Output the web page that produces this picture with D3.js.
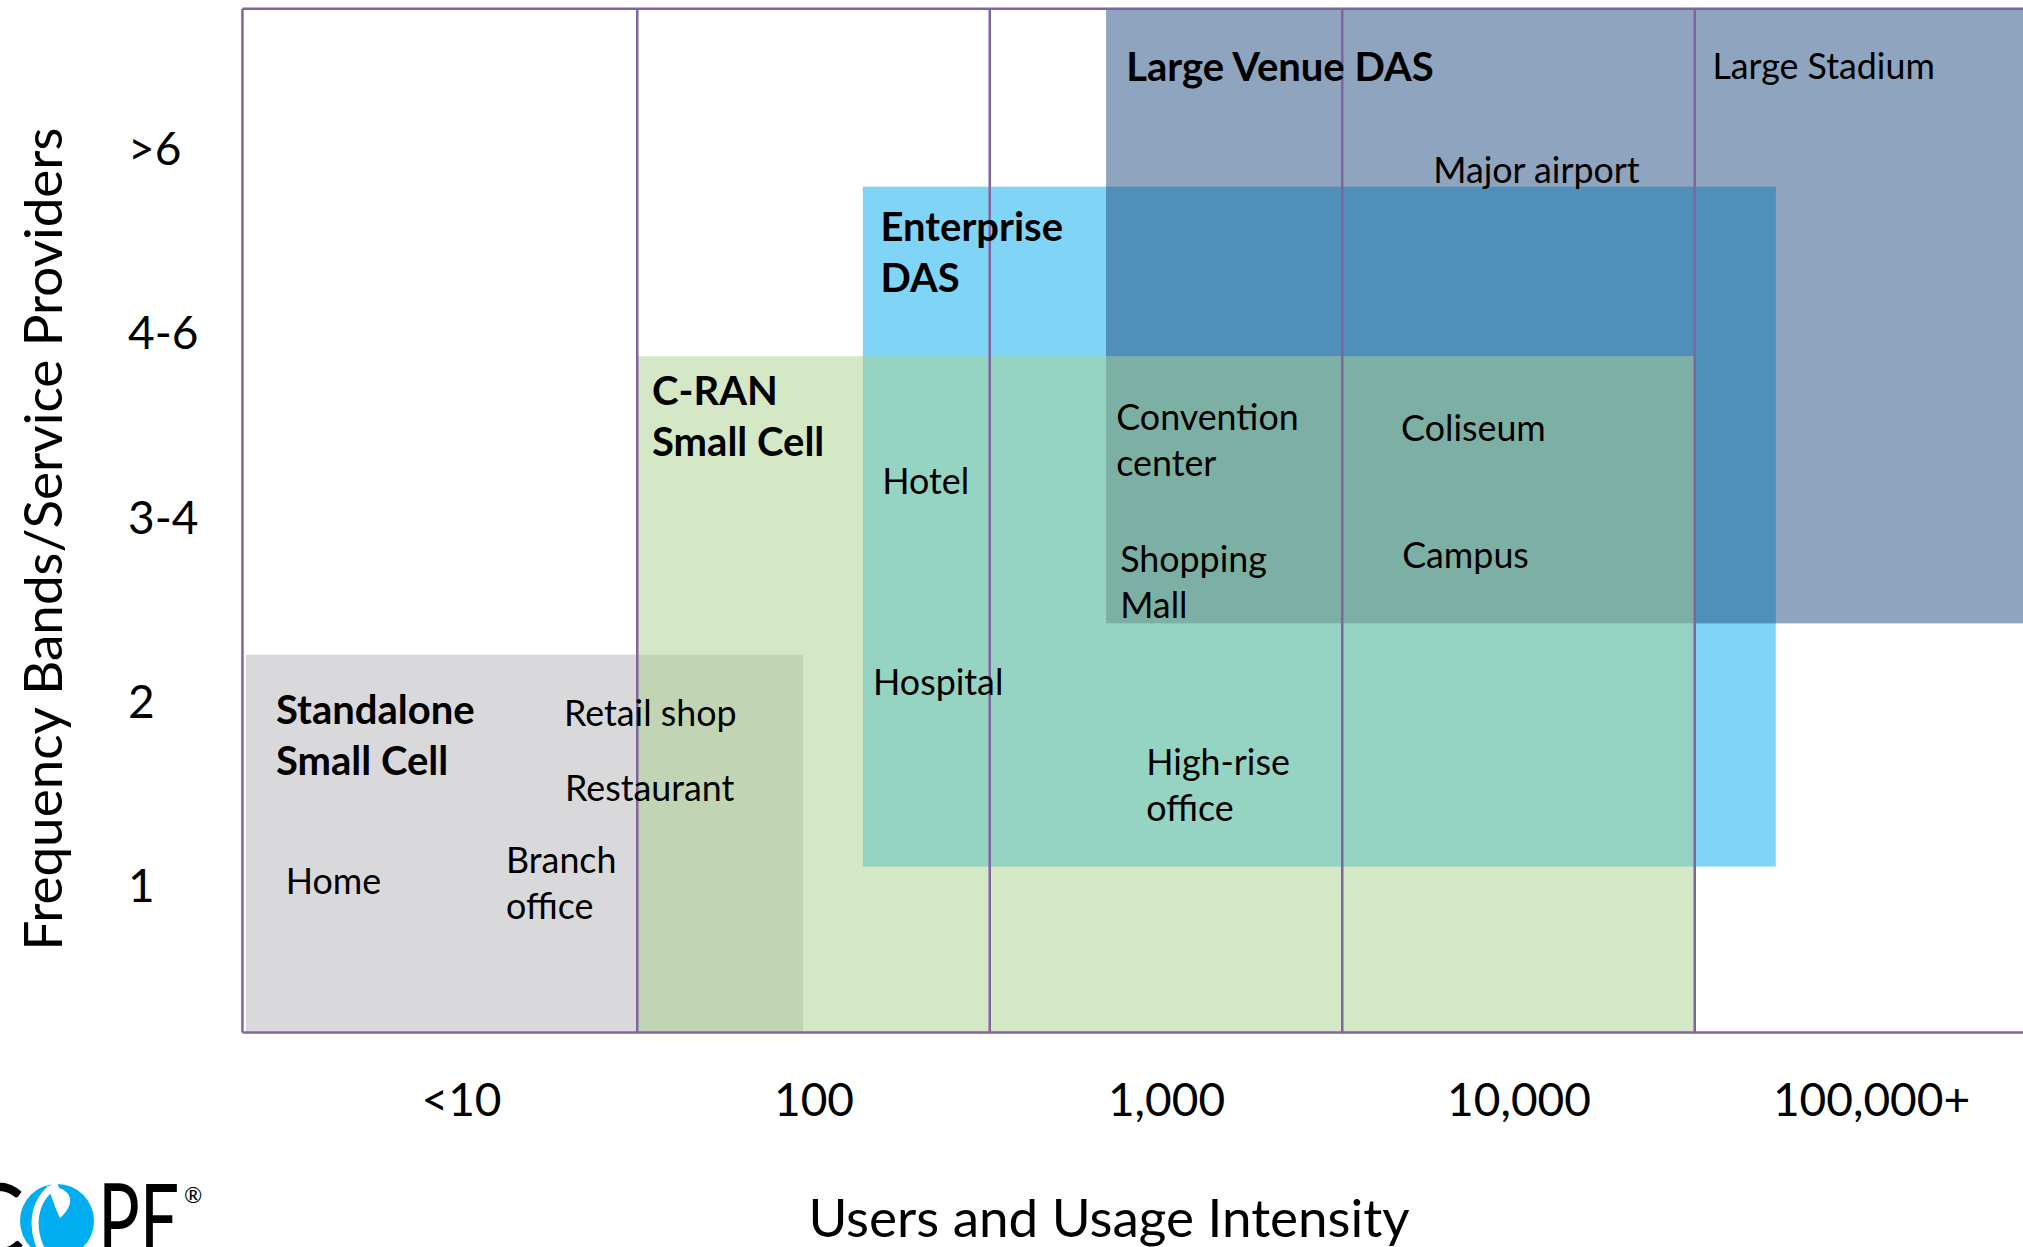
<!DOCTYPE html>
<html>
<head>
<meta charset="utf-8">
<script src="https://cdn.jsdelivr.net/npm/d3@7"></script>
<style>
  html, body { margin: 0; padding: 0; background: #fff; }
  svg { display: block; }
  text { font-family: Lato, "Open Sans", sans-serif; fill: #000; }
</style>
</head>
<body>
<svg id="chart" width="2023" height="1247"></svg>
<script>
// Horizontal axis: users / usage intensity, one band per decade
const usageTicks = ["<10", "100", "1,000", "10,000", "100,000+"];
// Vertical axis: frequency bands / service providers
const bandTicks = ["1", "2", "3-4", "4-6", ">6"];

// Coverage area of each solution, in axis units (usage index, band index)
const solutionNames = [["Standalone", "Small Cell"], ["Enterprise", "DAS"], ["Large Venue DAS"], ["C-RAN", "Small Cell"]];
const solutionUsageFrom = [-0.61, 1.14, 1.83, 0.5];
const solutionUsageTo   = [0.97, 3.73, 4.6, 3.5];
const solutionBandFrom  = [0.2, 1.1, 2.42, 0.2];
const solutionBandTo    = [2.25, 4.79, 5.76, 3.87];
const solutionLabelUsage = [-0.525, 1.19, 1.887, 0.542];
const solutionLabelBand  = [1.874, 4.495, 5.364, 3.605];

// Typical venues placed by usage and band count
const venueNames = [["Large Stadium"], ["Major airport"], ["Convention", "center"], ["Hotel"], ["Coliseum"],
  ["Shopping", "Mall"], ["Campus"], ["Hospital"], ["High-rise", "office"], ["Retail shop"], ["Restaurant"],
  ["Home"], ["Branch", "office"]];
const venueUsage = [3.55, 2.758, 1.859, 1.195, 2.667, 1.87, 2.67, 1.169, 1.944, 0.292, 0.295, -0.497, 0.128];
const venueBand  = [5.374, 4.81, 3.47, 3.122, 3.41, 2.70, 2.72, 2.03, 1.597, 1.863, 1.456, 0.951, 1.065];

// Plot extent in axis units and category boundaries
const usageExtent = [-0.62, 4.6];
const bandExtent = [0.2, 5.756];
const usageBoundaries = [0.5, 1.5, 2.5, 3.5];

const svg = d3.select("#chart");
const x = d3.scaleLinear().domain([0, 4]).range([461, 1871]);
const y = d3.scaleLinear().domain([1, 5]).range([885, 148]);

svg.append("rect").attr("width", 2023).attr("height", 1247).attr("fill", "#fff");

// Solution areas, drawn bottom to top
const fills = ["#D9D9DB", "#80D4F6", "#1F497D", "#A9D18E"];
const opacities = [1, 1, 0.5, 0.5];
const solutions = solutionNames.map((name, i) => ({
  name, x0: solutionUsageFrom[i], x1: solutionUsageTo[i], y0: solutionBandFrom[i], y1: solutionBandTo[i],
  lx: solutionLabelUsage[i], ly: solutionLabelBand[i], fill: fills[i], opacity: opacities[i]
}));

svg.append("g").selectAll("rect").data(solutions).join("rect")
  .attr("x", d => x(d.x0))
  .attr("y", d => y(d.y1))
  .attr("width", d => x(d.x1) - x(d.x0))
  .attr("height", d => y(d.y0) - y(d.y1))
  .attr("fill", d => d.fill)
  .attr("fill-opacity", d => d.opacity);

// Frame and category dividers
const lineColor = "#8064A2";
const frame = svg.append("g").attr("stroke", lineColor).attr("stroke-width", 2.5).attr("fill", "none");
frame.append("line").attr("x1", x(usageExtent[0])).attr("x2", x(usageExtent[0]))
  .attr("y1", y(bandExtent[0])).attr("y2", y(bandExtent[1]));
frame.append("line").attr("x1", x(usageExtent[0])).attr("x2", x(usageExtent[1]))
  .attr("y1", y(bandExtent[0])).attr("y2", y(bandExtent[0]));
frame.append("line").attr("x1", x(usageExtent[0])).attr("x2", x(usageExtent[1]))
  .attr("y1", y(bandExtent[1])).attr("y2", y(bandExtent[1]));
frame.selectAll("line.div").data(usageBoundaries).join("line").attr("class", "div")
  .attr("x1", d => x(d)).attr("x2", d => x(d))
  .attr("y1", y(bandExtent[0])).attr("y2", y(bandExtent[1]));

// Solution titles
const titles = svg.append("g").attr("font-weight", 700).attr("font-size", 40);
titles.selectAll("text").data(solutions).join("text")
  .attr("x", d => x(d.lx)).attr("y", d => y(d.ly))
  .selectAll("tspan").data(d => d.name.map(t => ({ t, lx: d.lx }))).join("tspan")
  .attr("x", d => x(d.lx)).attr("dy", (d, i) => i ? 51 : 0)
  .text(d => d.t);

// Venue labels
const venues = venueNames.map((name, i) => ({ name, u: venueUsage[i], b: venueBand[i] }));
const vlab = svg.append("g").attr("font-size", 35.8);
vlab.selectAll("text").data(venues).join("text")
  .attr("x", d => x(d.u)).attr("y", d => y(d.b))
  .selectAll("tspan").data(d => d.name.map(t => ({ t, u: d.u }))).join("tspan")
  .attr("x", d => x(d.u)).attr("dy", (d, i) => i ? 46 : 0)
  .text(d => d.t);

// Axes
const xAxis = svg.append("g").attr("transform", "translate(0,1083)")
  .call(d3.axisBottom(x).tickValues(d3.range(usageTicks.length)).tickFormat(i => usageTicks[i]).tickSize(0).tickPadding(0));
xAxis.select(".domain").remove();
xAxis.selectAll("text").attr("font-size", 46).attr("font-family", "Lato, sans-serif").attr("fill", "#000").attr("dy", "0.72em");

const yAxis = svg.append("g").attr("transform", "translate(128,0)")
  .call(d3.axisLeft(y).tickValues(d3.range(1, bandTicks.length + 1)).tickFormat(v => bandTicks[v - 1]).tickSize(0).tickPadding(0));
yAxis.select(".domain").remove();
yAxis.selectAll("text").attr("font-size", 46).attr("font-family", "Lato, sans-serif").attr("fill", "#000")
  .attr("text-anchor", "start").attr("dy", "0.36em");

// Axis titles
svg.append("text").attr("x", 1109).attr("y", 1237).attr("text-anchor", "middle")
  .attr("font-size", 53).text("Users and Usage Intensity");
svg.append("text").attr("transform", "translate(62,539) rotate(-90)").attr("text-anchor", "middle")
  .attr("font-size", 53).text("Frequency Bands/Service Providers");

// Brand mark, partly cut off at the lower left
const logo = svg.append("g");
logo.append("text").attr("x", -42).attr("y", 1256).attr("font-size", 100).attr("font-family", "Open Sans, sans-serif")
  .attr("fill", "#231F20").text("C");
logo.append("circle").attr("cx", 57).attr("cy", 1221).attr("r", 37).attr("fill", "#00AEEF");
logo.append("path").attr("d", "M58,1185 C30,1196 28,1240 50,1260")
  .attr("fill", "none").attr("stroke", "#fff").attr("stroke-width", 7);
logo.append("path").attr("d", "M47,1186 C68,1186 80,1200 60,1218 C54,1206 52,1196 47,1186 Z").attr("fill", "#fff");
logo.append("text").attr("x", 98).attr("y", 1256).attr("font-size", 100).attr("font-family", "Open Sans, sans-serif")
  .attr("fill", "#231F20").attr("textLength", 82).attr("lengthAdjust", "spacingAndGlyphs").text("PE");
logo.append("text").attr("x", 184).attr("y", 1203).attr("font-size", 22).attr("font-family", "Open Sans, sans-serif")
  .attr("fill", "#231F20").text("®");
</script>
</body>
</html>
